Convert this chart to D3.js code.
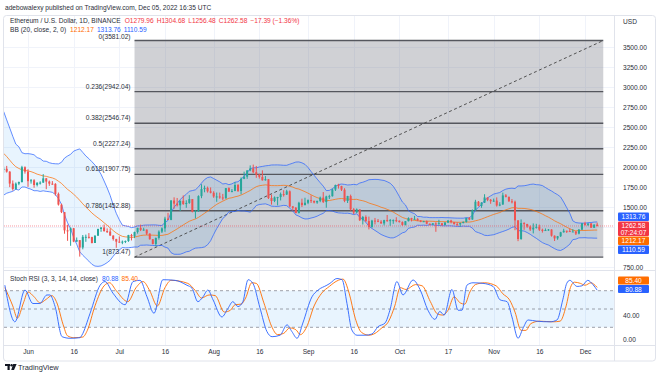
<!DOCTYPE html>
<html><head><meta charset="utf-8">
<script src="https://cdn.jsdelivr.net/npm/d3@7"></script>
<style>
html,body{margin:0;padding:0;background:#fff;}
svg{display:block;font-family:"Liberation Sans",Arial,sans-serif;}
</style></head><body>
<svg id="c" width="660" height="379"></svg>
<script>
// ---------------- DATA ----------------
const firstDay = "2022-05-24"; // one candle per day
const open = [1972,1978,1942,1793,1725,1792,1812,1997,1942,1823,1834,1775,1804,1805,1858,1818,1792,1789,1664,1530,1436,1208,1206,1234,1068,1086,994,1127,1127,1124,1050,1142,1225,1243,1199,1193,1143,1099,1067,1059,1067,1075,1150,1134,1187,1238,1214,1218,1168,1097,1038,1113,1192,1233,1355,1339,1581,1542,1521,1577,1537,1551,1599,1440,1450,1636,1724,1738,1696,1678,1632,1632,1619,1608,1736,1693,1701,1775,1700,1852,1879,1957,1982,1935,1904,1876,1834,1848,1612,1575,1620,1624,1661,1656,1696,1507,1490,1424,1553,1524,1553,1586,1577,1556,1577,1617,1562,1632,1635,1718,1775,1762,1716,1575,1637,1471,1433,1470,1335,1375,1324,1251,1330,1328,1316,1295,1336,1331,1336,1336,1328,1311,1276,1323,1362,1352,1352,1330,1316,1322,1291,1280,1295,1288,1297,1274,1306,1331,1311,1286,1283,1299,1314,1363,1344,1459,1566,1514,1555,1619,1590,1572,1580,1519,1531,1645,1627,1571,1566,1333,1100,1299,1287,1256,1219,1242,1252,1216,1201,1212,1219,1141,1108,1135,1184,1203,1199,1193,1194,1168,1217,1296,1276,1294,1241,1279.96];
const high = [2005,2014,1948,1832,1807,1818,2015,2008,1972,1850,1848,1808,1822,1911,1863,1831,1824,1798,1681,1542,1437,1279,1245,1238,1119,1087,1150,1155,1174,1128,1145,1229,1250,1281,1233,1233,1145,1103,1132,1081,1081,1152,1164,1192,1241,1280,1241,1219,1170,1100,1118,1208,1245,1378,1427,1587,1621,1613,1582,1645,1584,1648,1599,1463,1646,1785,1767,1755,1745,1697,1681,1680,1664,1736,1746,1725,1812,1788,1870,1942,1960,2020,2030,2013,1915,1958,1887,1850,1654,1632,1627,1681,1710,1715,1707,1513,1500,1565,1604,1616,1595,1646,1580,1578,1630,1687,1641,1653,1730,1780,1790,1765,1735,1640,1655,1486,1482,1470,1388,1395,1380,1340,1363,1350,1336,1340,1400,1350,1345,1372,1332,1320,1324,1371,1365,1389,1360,1335,1327,1332,1295,1300,1310,1340,1300,1310,1335,1340,1312,1310,1305,1318,1365,1375,1470,1590,1575,1560,1660,1620,1600,1605,1620,1560,1680,1662,1630,1600,1580,1335,1345,1310,1290,1270,1295,1290,1280,1230,1232,1225,1222,1145,1138,1190,1228,1205,1232,1225,1198,1225,1300,1315,1296,1300,1282,1304.68];
const low = [1926,1930,1748,1705,1716,1773,1806,1917,1752,1792,1741,1757,1781,1802,1723,1764,1778,1642,1518,1424,1166,1077,1015,1060,1064,880,971,1065,1105,1045,1050,1138,1190,1192,1175,1140,1080,990,1053,1035,1049,1064,1082,1111,1167,1199,1204,1150,1092,1033,1007,1092,1175,1190,1337,1335,1479,1506,1450,1527,1490,1540,1433,1356,1438,1610,1684,1680,1670,1615,1565,1603,1585,1605,1688,1683,1697,1688,1659,1848,1852,1947,1922,1865,1855,1830,1830,1600,1530,1561,1520,1582,1630,1650,1495,1456,1422,1420,1500,1520,1536,1550,1545,1540,1560,1550,1491,1600,1630,1700,1730,1700,1560,1550,1455,1410,1424,1325,1281,1312,1220,1240,1282,1310,1290,1270,1315,1265,1290,1310,1306,1265,1270,1320,1320,1345,1325,1310,1312,1284,1270,1275,1190,1280,1265,1272,1300,1295,1280,1265,1255,1296,1305,1335,1340,1455,1508,1490,1550,1573,1540,1565,1505,1510,1528,1620,1565,1545,1210,1073,1090,1215,1240,1200,1170,1230,1200,1180,1200,1202,1130,1075,1090,1125,1180,1175,1190,1190,1150,1158,1212,1265,1262,1240,1238,1256.48];
const close = [1978,1942,1793,1725,1792,1812,1997,1942,1823,1834,1775,1804,1805,1858,1818,1792,1789,1664,1530,1436,1208,1206,1234,1068,1086,994,1127,1127,1124,1050,1142,1225,1243,1199,1193,1143,1099,1067,1059,1067,1075,1150,1134,1187,1238,1214,1218,1168,1097,1038,1113,1192,1233,1355,1339,1581,1542,1521,1577,1537,1551,1599,1440,1450,1636,1724,1738,1696,1678,1632,1632,1619,1608,1736,1693,1701,1775,1700,1852,1879,1957,1982,1935,1904,1876,1834,1848,1612,1575,1620,1624,1661,1656,1696,1507,1490,1424,1553,1524,1553,1586,1577,1556,1577,1617,1562,1632,1635,1718,1775,1762,1716,1575,1637,1471,1433,1470,1335,1375,1324,1251,1330,1328,1316,1295,1336,1331,1336,1336,1328,1311,1276,1323,1362,1352,1352,1330,1316,1322,1291,1280,1295,1288,1297,1274,1306,1331,1311,1286,1283,1299,1314,1363,1344,1459,1566,1514,1555,1619,1590,1572,1580,1519,1531,1645,1627,1571,1566,1333,1100,1299,1287,1256,1219,1242,1252,1216,1201,1212,1219,1141,1108,1135,1184,1203,1199,1193,1194,1168,1217,1296,1276,1294,1241,1279.97,1262.58];
// closes of the 19 days before the first visible candle (May 5 - May 23), needed by BB(20)
const warmupClose = [2749,2695,2636,2518,2246,2343,2080,1960,2013,2058,2146,2023,2091,1913,2017,1961,1975,2044,1973];

// Stoch RSI: [days after 2022-06-01, value]
const stochK = [[-7.6,89],[-4.3,29],[-1,81],[1.6,59],[3.9,59],[6.2,73],[7.2,73],[8.9,54],[11.2,4.6],[13.8,2],[17.1,3],[17.7,7],[20.4,43],[23.7,89],[25.3,95],[27.9,76],[31.9,57],[34.5,95],[36.8,97],[39.1,70],[41.4,43],[44.3,98],[48.3,97],[52.2,89],[53.9,84],[55.8,62],[57.5,70],[59.1,81],[60.8,65],[63.7,37],[65.7,51],[67.3,62],[69,54],[70.6,62],[72.3,98],[73.9,92],[76.2,52],[78.5,13],[80.2,4.6],[82.8,7],[85.1,24],[86.7,13],[88.4,2],[90.3,27],[93.3,70],[95.3,81],[98.2,89],[99.2,92],[101.5,100],[103.2,98],[104.8,59],[106.4,15.6],[108.1,7],[110.7,7],[113,9],[115,21],[117.3,27],[118.9,48],[121.2,95],[123.2,73],[126.5,97.5],[128.8,82],[131.4,48],[133.7,33],[135.3,46],[136.7,40],[139.3,82],[141.3,48],[142.6,48],[144.2,89],[146.2,93],[149.5,92],[152.8,87],[155.1,65],[157.4,62],[159,37],[161,2],[162.6,18],[164.3,32],[167.2,30],[171.5,29],[173.8,32],[175.7,65],[177,92],[178,97],[180.4,87],[182,88],[183.9,97],[185.6,90],[187,80.88]];
const stochD = [[-7.6,85],[-5,55],[-3.5,35],[-1.5,60],[0,78],[2,70],[4,60],[6,66],[7.8,72],[9.5,60],[11.5,25],[13,6],[15,3],[18,4],[19.5,15],[22,55],[25,88],[26.8,93],[29,80],[32.8,62],[35.5,85],[37.8,95],[40,80],[42.5,55],[45,85],[47,97],[52.5,92],[55,80],[57,68],[59.5,73],[61.5,72],[64.5,45],[66.5,48],[68,57],[70,58],[71.5,68],[73.5,93],[75,92],[77.5,60],[80,22],[82,8],[84,10],[86,19],[88,16],[89.5,8],[91.5,20],[94,55],[96.5,76],[99,87],[101.5,96],[103.5,99],[105.5,76],[107.5,35],[109.5,12],[112,7],[114,10],[116,18],[118.5,30],[120.5,55],[122.3,85],[124.2,82],[127.3,90],[129.5,88],[132.2,62],[134.5,42],[136.2,40],[138,48],[140,70],[142,60],[143.5,58],[145.2,78],[147,90],[150,93],[153.8,88],[156,75],[158.2,65],[160,45],[162,15],[163.6,15],[165.2,26],[168,30],[172.5,29],[174.8,30],[176.8,55],[178.2,85],[179.5,94],[181.5,92],[183,89],[185,93],[185.8,91],[187,85.4]];

const fibRatios = ["0","0.236","0.382","0.5","0.618","0.786","1"];
const fibPrices = [3581.02,2942.04,2546.74,2227.24,1907.75,1452.88,873.47];
const fibStart = "2022-07-06", fibEnd = "2022-12-07";

const timeTicks = ["2022-06-01","2022-06-16","2022-07-01","2022-07-16","2022-08-01","2022-08-16","2022-09-01","2022-09-16","2022-10-01","2022-10-17","2022-11-01","2022-11-16","2022-12-01"];
const timeLabels = ["Jun","16","Jul","16","Aug","16","Sep","16","Oct","17","Nov","16","Dec"];
const gridPrices = [750,1000,1250,1500,1750,2000,2250,2500,2750,3000,3250,3500];
const priceTicks = [750,1500,1750,2000,2250,2500,2750,3000,3250,3500];
const stochTicks = [0,40];
const stochLevels = [80,50,20];
const bbLast = {basis:1212.17, upper:1313.76, lower:1110.59};
const stochLast = {k:80.88, d:85.40};
const lastChange = "\u221217.39 (\u22121.36%)";
const countdown = "07:24:07";

// ---------------- LAYOUT ----------------
const svg = d3.select("#c");
const paneL = 4, paneR = 614, mainT = 16, mainB = 270, stT = 271, stB = 345, frameB = 361;
const up = "#26a69a", dn = "#ef5350", blue = "#2962ff", orange = "#ff6d00", red = "#f23645";
const fs = 6.6;

const parse = d3.utcParse("%Y-%m-%d");
const x = d3.scaleUtc().domain([parse("2022-06-01"), parse("2022-12-01")]).range([28, 585]);
const y = d3.scaleLinear().domain([750, 3500]).range([267, 47]);
const ys = d3.scaleLinear().domain([0, 100]).range([339.5, 278.5]);

const t0 = parse(firstDay);
const dates = close.map((_, i) => d3.utcDay.offset(t0, i));
const jun1 = parse("2022-06-01");
const dayToDate = d => new Date(jun1.getTime() + d * 864e5);

// Bollinger Bands (20, 2) from the closes
const allClose = warmupClose.concat(close);
const bb = close.map((c, i) => {
  const w = allClose.slice(i, i + 20);
  const m = d3.mean(w);
  const sd = Math.sqrt(d3.mean(w, v => (v - m) * (v - m)));
  return {d: dates[i], m, u: m + 2 * sd, l: m - 2 * sd};
});

const defs = svg.append("defs");
defs.append("clipPath").attr("id", "cm").append("rect").attr("x", paneL).attr("y", mainT).attr("width", paneR - paneL).attr("height", mainB - mainT);
defs.append("clipPath").attr("id", "cs").append("rect").attr("x", paneL).attr("y", stT).attr("width", paneR - paneL).attr("height", stB - stT);

// grid
const grid = svg.append("g").attr("stroke", "#f0f3fa").attr("stroke-width", 1);
timeTicks.forEach(t => {
  const xx = Math.round(x(parse(t))) + 0.5;
  grid.append("line").attr("x1", xx).attr("x2", xx).attr("y1", mainT).attr("y2", stB);
});
gridPrices.forEach(p => {
  const yy = Math.round(y(p)) + 0.5;
  grid.append("line").attr("x1", paneL).attr("x2", paneR).attr("y1", yy).attr("y2", yy);
});

// ---------- main pane ----------
const main = svg.append("g").attr("clip-path", "url(#cm)");
const fx1 = x(parse(fibStart)), fx2 = x(parse(fibEnd));
main.append("rect").attr("x", fx1).attr("width", fx2 - fx1)
  .attr("y", y(fibPrices[0])).attr("height", y(fibPrices[6]) - y(fibPrices[0]))
  .attr("fill", "#787b86").attr("fill-opacity", 0.35);

main.append("path").datum(bb)
  .attr("d", d3.area().x(d => x(d.d)).y0(d => y(d.l)).y1(d => y(d.u)))
  .attr("fill", "#2196f3").attr("fill-opacity", 0.1);

fibPrices.forEach(p => {
  main.append("line").attr("x1", fx1).attr("x2", fx2).attr("y1", y(p)).attr("y2", y(p))
    .attr("stroke", "#55575e").attr("stroke-width", 1.4);
});
main.append("line").attr("x1", fx1).attr("y1", y(fibPrices[6])).attr("x2", fx2).attr("y2", y(fibPrices[0]))
  .attr("stroke", "#444").attr("stroke-width", 0.9).attr("stroke-dasharray", "3,2.5");

const lineGen = key => d3.line().x(d => x(d.d)).y(d => y(d[key]));
main.append("path").datum(bb).attr("d", lineGen("u")).attr("fill", "none").attr("stroke", blue).attr("stroke-width", 0.9).attr("stroke-opacity", 0.8);
main.append("path").datum(bb).attr("d", lineGen("l")).attr("fill", "none").attr("stroke", blue).attr("stroke-width", 0.9).attr("stroke-opacity", 0.8);
main.append("path").datum(bb).attr("d", lineGen("m")).attr("fill", "none").attr("stroke", orange).attr("stroke-width", 0.9).attr("stroke-opacity", 0.8);

// price line
main.append("line").attr("x1", paneL).attr("x2", paneR).attr("y1", y(close[close.length - 1])).attr("y2", y(close[close.length - 1]))
  .attr("stroke", red).attr("stroke-opacity", 0.5).attr("stroke-dasharray", "1,1").attr("stroke-width", 1);

// candles
const cg = main.append("g");
dates.forEach((d, i) => {
  const cx = x(d), col = close[i] >= open[i] ? up : dn;
  cg.append("rect").attr("x", cx - 0.5).attr("width", 1).attr("y", y(high[i])).attr("height", Math.max(0.5, y(low[i]) - y(high[i]))).attr("fill", col);
  const top = y(Math.max(open[i], close[i])), bot = y(Math.min(open[i], close[i]));
  cg.append("rect").attr("x", cx - 1).attr("width", 2).attr("y", top).attr("height", Math.max(1, bot - top)).attr("fill", col);
});

// fib labels (the top one sits a little lower so it clears the BB legend line)
fibPrices.forEach((p, i) => {
  svg.append("text").attr("x", fx1 - 4).attr("y", i === 0 ? y(p) - 1.3 : y(p) - 3).attr("text-anchor", "end")
    .attr("font-size", fs).attr("fill", "#2a2e39").text(`${fibRatios[i]}(${p.toFixed(2)})`);
});

// ---------- stoch pane ----------
const st = svg.append("g").attr("clip-path", "url(#cs)");
st.append("rect").attr("x", paneL).attr("width", paneR - paneL).attr("y", ys(80)).attr("height", ys(20) - ys(80))
  .attr("fill", "#2196f3").attr("fill-opacity", 0.1);
stochLevels.forEach(v => {
  st.append("line").attr("x1", paneL).attr("x2", paneR).attr("y1", ys(v)).attr("y2", ys(v))
    .attr("stroke", "#787b86").attr("stroke-opacity", 0.7).attr("stroke-dasharray", "3,3");
});
const sLine = d3.line().x(d => x(dayToDate(d[0]))).y(d => ys(d[1])).curve(d3.curveMonotoneX);
st.append("path").datum(stochD).attr("d", sLine).attr("fill", "none").attr("stroke", orange).attr("stroke-width", 0.9);
st.append("path").datum(stochK).attr("d", sLine).attr("fill", "none").attr("stroke", blue).attr("stroke-width", 0.9);

// ---------- frame & separators ----------
const fr = svg.append("g").attr("stroke", "#e0e3eb").attr("fill", "none");
fr.append("rect").attr("x", 3.5).attr("y", 15.5).attr("width", 652).attr("height", frameB - 15.5).attr("rx", 3);
fr.append("line").attr("x1", 4).attr("x2", 656).attr("y1", 270.5).attr("y2", 270.5);
fr.append("line").attr("x1", 4).attr("x2", 656).attr("y1", 345.5).attr("y2", 345.5);
fr.append("line").attr("x1", 614.5).attr("x2", 614.5).attr("y1", 16).attr("y2", frameB);

// ---------- axes ----------
const ax = svg.append("g").attr("transform", `translate(0,${stB})`)
  .call(d3.axisBottom(x).tickValues(timeTicks.map(parse)).tickFormat((d, i) => timeLabels[i]).tickSize(0).tickPadding(4.5));
ax.select(".domain").remove();
ax.selectAll("text").attr("font-size", fs).attr("fill", "#2a2e39").attr("font-family", null);

const ay = svg.append("g").attr("transform", `translate(${paneR},0)`)
  .call(d3.axisRight(y).tickValues(priceTicks).tickFormat(d => d.toFixed(2)).tickSize(0).tickPadding(9));
ay.select(".domain").remove();
ay.selectAll("text").attr("font-size", fs).attr("fill", "#2a2e39").attr("font-family", null);

const as = svg.append("g").attr("transform", `translate(${paneR},0)`)
  .call(d3.axisRight(ys).tickValues(stochTicks).tickFormat(d => d.toFixed(2)).tickSize(0).tickPadding(9));
as.select(".domain").remove();
as.selectAll("text").attr("font-size", fs).attr("fill", "#2a2e39").attr("font-family", null);

svg.append("text").attr("x", 623).attr("y", 24).attr("font-size", fs).attr("fill", "#2a2e39").text("USD");

// value tags on the price scale
function tag(yTop, h, col, lines) {
  svg.append("rect").attr("x", 618).attr("y", yTop).attr("width", 31).attr("height", h).attr("fill", col).attr("rx", 1);
  lines.forEach((t, i) => {
    svg.append("text").attr("x", 633.5).attr("y", yTop + 6.8 + i * 6.8).attr("text-anchor", "middle")
      .attr("font-size", fs).attr("fill", "#fff").text(t);
  });
}
tag(212.5, 8.5, blue, [bbLast.upper.toFixed(2)]);
tag(221.5, 14.5, red, [close[close.length - 1].toFixed(2), countdown]);
tag(236.5, 8.5, orange, [bbLast.basis.toFixed(2)]);
tag(245.5, 8.5, blue, [bbLast.lower.toFixed(2)]);
tag(276.5, 8, orange, [stochLast.d.toFixed(2)]);
tag(285, 8, blue, [stochLast.k.toFixed(2)]);

// ---------- legends ----------
svg.append("text").attr("x", 5).attr("y", 9.5).attr("font-size", fs).attr("fill", "#2a2e39")
  .text("adebowalexy published on TradingView.com, Dec 05, 2022 16:35 UTC");

const n = close.length - 1;
const l2 = svg.append("text").attr("x", 10).attr("y", 23.3).attr("font-size", fs).attr("fill", "#2a2e39");
l2.append("tspan").text("Ethereum / U.S. Dollar, 1D, BINANCE");
[["O", open[n]], ["H", high[n]], ["L", low[n]], ["C", close[n]]].forEach((p, i) => {
  l2.append("tspan").attr("dx", i === 0 ? 4 : 3).attr("fill", red).text(p[0] + p[1].toFixed(2));
});
l2.append("tspan").attr("dx", 3).attr("fill", red).text(lastChange);

const l3 = svg.append("text").attr("x", 10).attr("y", 31.6).attr("font-size", fs).attr("fill", "#2a2e39");
l3.append("tspan").text("BB (20, close, 2, 0)");
l3.append("tspan").attr("dx", 4).attr("fill", orange).text(bbLast.basis.toFixed(2));
l3.append("tspan").attr("dx", 3).attr("fill", blue).text(bbLast.upper.toFixed(2));
l3.append("tspan").attr("dx", 3).attr("fill", blue).text(bbLast.lower.toFixed(2));

const l4 = svg.append("text").attr("x", 10).attr("y", 281).attr("font-size", fs).attr("fill", "#2a2e39");
l4.append("tspan").text("Stoch RSI (3, 3, 14, 14, close)");
l4.append("tspan").attr("dx", 4).attr("fill", blue).text(stochLast.k.toFixed(2));
l4.append("tspan").attr("dx", 3).attr("fill", orange).text(stochLast.d.toFixed(2));

// ---------- footer logo ----------
const lg = svg.append("g").attr("fill", "#131722");
lg.append("rect").attr("x", 5).attr("y", 364).attr("width", 5).attr("height", 2);
lg.append("rect").attr("x", 7.5).attr("y", 364).attr("width", 2.2).attr("height", 6);
lg.append("circle").attr("cx", 11.6).attr("cy", 365.2).attr("r", 1.2);
lg.append("path").attr("d", "M13.2,364 L16.6,364 L14,370 L11.2,370 Z");
svg.append("text").attr("x", 18).attr("y", 370).attr("font-size", 7.4).attr("fill", "#2a2e39").text("TradingView");
</script>
</body></html>
